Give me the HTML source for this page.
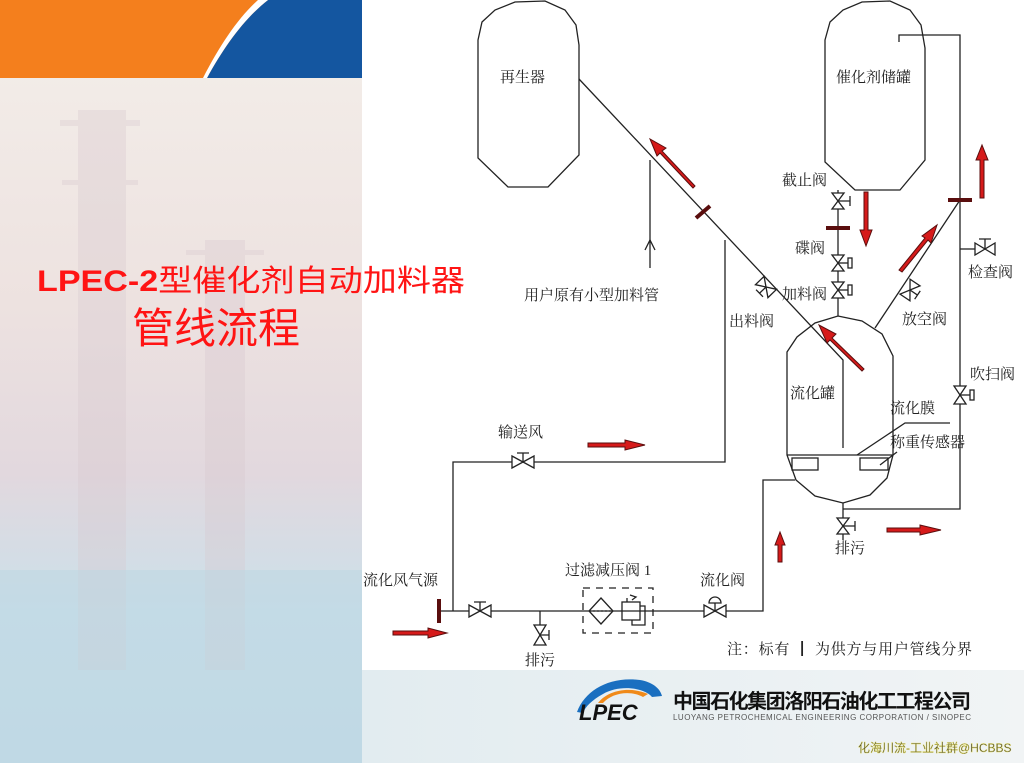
<!DOCTYPE html>
<html><head><meta charset="utf-8"><style>
html,body{margin:0;padding:0;width:1024px;height:763px;overflow:hidden;background:#fff}
svg{display:block}
text{font-family:"Liberation Serif","Noto Serif CJK SC",serif}
</style></head><body>
<svg width="1024" height="763" viewBox="0 0 1024 763" xmlns="http://www.w3.org/2000/svg">
<defs>
<linearGradient id="bgL" x1="0" y1="0" x2="0" y2="1">
<stop offset="0" stop-color="#f4efea"/><stop offset="0.4" stop-color="#ede2e0"/><stop offset="0.62" stop-color="#e2d8de"/><stop offset="0.8" stop-color="#cbe0ea"/><stop offset="1" stop-color="#c4dce8"/>
</linearGradient>
<linearGradient id="bgB" x1="0" y1="0" x2="1" y2="0">
<stop offset="0" stop-color="#e2ecf0"/><stop offset="1" stop-color="#f1f4f5"/>
</linearGradient>
</defs>
<!-- left background -->
<rect x="0" y="0" width="362" height="763" fill="url(#bgL)"/>
<g fill="#d8c8cf" opacity="0.35">
<rect x="78" y="110" width="48" height="560"/>
<rect x="60" y="120" width="80" height="6"/>
<rect x="62" y="180" width="76" height="5"/>
<rect x="205" y="240" width="40" height="430"/>
<rect x="186" y="250" width="78" height="5"/>
</g>
<g fill="#bcd5e1" opacity="0.5">
<rect x="0" y="570" width="362" height="193"/>
</g>
<!-- top band -->
<rect x="0" y="0" width="362" height="78" fill="#f47f1d"/>
<path d="M268,0 L362,0 L362,78 L207,78 C225,45 245,18 268,0 Z" fill="#1456a0"/>
<path d="M258,0 L268,0 C245,18 225,45 207,78 L203,78 C220,45 238,18 258,0 Z" fill="#fff"/>
<!-- diagram white area -->
<rect x="362" y="0" width="662" height="670" fill="#fff"/>
<!-- bottom strip -->
<rect x="362" y="670" width="662" height="93" fill="url(#bgB)"/>
<!-- title -->
<text x="37" y="291" font-size="30" fill="#ff1414" style="font-family:'Liberation Sans','Noto Sans CJK SC',sans-serif" textLength="428" lengthAdjust="spacingAndGlyphs"><tspan font-weight="bold">LPEC-2</tspan>型催化剂自动加料器</text>
<text x="132" y="343" font-size="42" fill="#ff1414" style="font-family:'Liberation Sans','Noto Sans CJK SC',sans-serif">管线流程</text>

<g stroke="#222" stroke-width="1.3" fill="none">
<path d="M478,40 L482,22 L495,10 L515,2 L545,1 L565,10 L576,25 L579,45 L579,155 L548,187 L508,187 L478,158 Z"/>
<path d="M825,40 L830,22 L843,10 L862,2 L890,1 L910,10 L921,25 L925,48 L925,160 L900,190 L855,190 L825,162 Z"/>
<path d="M579,79 L843,360 L843,448"/>
<path d="M650,160 L650,268"/>
<path d="M645,250 L650,240 L655,250"/>
<path d="M725,240 L725,462 L453,462 L453,611"/>
<path d="M440,611 L763,611 L763,480 L795,480"/>
<path d="M540,611 L540,645"/>
<path d="M787,352 L797,337 L815,323 L838,316 L862,321 L882,334 L893,356 L893,455 L887,478 L870,495 L843,503 L815,496 L796,480 L787,455 Z"/>
<path d="M787,455 L893,455"/>
<rect x="792" y="458" width="26" height="12"/>
<rect x="860" y="458" width="28" height="12"/>
<path d="M950,423 L905,423 L857,455"/>
<path d="M880,465 L897,452"/>
<path d="M838,190 L838,316"/>
<path d="M875,328 L960,200"/>
<path d="M899,42 L899,35 L960,35 L960,509 L843,509"/>
<path d="M843,503 L843,540"/>
<path d="M960,249 L975,249"/>
<rect x="583" y="588" width="70" height="45" stroke-dasharray="7,6"/>
<path d="M601,598 L613,611 L601,624 L589,611 Z"/>
<path d="M589,611 L613,611" stroke-dasharray="2,2"/>
<rect x="622" y="602" width="18" height="18"/>
<path d="M640,606 L645,606 L645,625 L632,625 L632,620"/>
<path d="M627,602 L627,598 M630,595 L636,597 L632,600"/>
</g>
<g stroke="#222" stroke-width="1.3" fill="#fff">
<path d="M512,456 L512,468 L534,456 L534,468 Z"/><path d="M523,462 L523,453 M517,453 L529,453" fill="none"/>
<path d="M469,605 L469,617 L491,605 L491,617 Z"/><path d="M480,611 L480,602 M474,602 L486,602" fill="none"/>
<path d="M704,605 L704,617 L726,605 L726,617 Z"/><path d="M715,611 L715,603" fill="none"/><path d="M709,603 A6,6 0 0 1 721,603 Z"/>
<path d="M975,243 L975,255 L995,243 L995,255 Z"/><path d="M985,249 L985,239 M979,239 L991,239" fill="none"/>
<path d="M534,625 L546,625 L534,645 L546,645 Z"/><path d="M540,635 L549,635 M549,630 L549,640" fill="none"/>
<path d="M832,193 L844,193 L832,209 L844,209 Z"/><path d="M838,201 L850,201 M850,196 L850,206" fill="none"/>
<path d="M832,255 L844,255 L832,271 L844,271 Z"/><path d="M838,263 L848,263" fill="none"/><rect x="848" y="258" width="4" height="10"/>
<path d="M832,282 L844,282 L832,298 L844,298 Z"/><path d="M838,290 L848,290" fill="none"/><rect x="848" y="285" width="4" height="10"/>
<path d="M954,386 L966,386 L954,404 L966,404 Z"/><path d="M960,395 L970,395" fill="none"/><rect x="970" y="390" width="4" height="10"/>
<path d="M837,518 L849,518 L837,534 L849,534 Z"/><path d="M843,526 L855,526 M855,521 L855,531" fill="none"/>
<g transform="translate(766,287) rotate(46)"><path d="M-9,-6 L-9,6 L9,-6 L9,6 Z"/><path d="M0,0 L0,9 M-5,9 L5,9" fill="none"/></g>
<g transform="translate(910,290) rotate(-56)"><path d="M-9,-6 L-9,6 L9,-6 L9,6 Z"/><path d="M0,0 L0,9 M-5,9 L5,9" fill="none"/></g>
</g>
<g stroke="#5a0e0e" stroke-width="4">
<path d="M439,599 L439,623"/>
<path d="M826,228 L850,228"/>
<path d="M948,200 L972,200"/>
<path d="M696,218 L710,206"/>
</g>
<g stroke="#5a0e0e" stroke-width="1" fill="#d61a1a">
<path d="M695,186 L662,151 L666,148 L650,139 L657,156 L660,153 L693,188 Z"/>
<path d="M864,369 L832,338 L836,334 L819,325 L827,343 L830,340 L862,371 Z"/>
<path d="M902,272 L928,240 L931,243 L937,225 L922,236 L925,238 L899,270 Z"/>
<path d="M864,192 L868,192 L868,230 L872,230 L866,246 L860,230 L864,230 Z"/>
<path d="M980,198 L984,198 L984,160 L988,160 L982,145 L976,160 L980,160 Z"/>
<path d="M778,562 L782,562 L782,545 L785,545 L780,532 L775,545 L778,545 Z"/>
<path d="M588,443 L625,443 L625,440 L645,445 L625,450 L625,447 L588,447 Z"/>
<path d="M393,631 L428,631 L428,628 L447,633 L428,638 L428,635 L393,635 Z"/>
<path d="M887,528 L920,528 L920,525 L941,530 L920,535 L920,532 L887,532 Z"/>
</g>
<g font-size="15" fill="#222">
<text x="500" y="82">再生器</text>
<text x="836" y="82">催化剂储罐</text>
<text x="782" y="185">截止阀</text>
<text x="795" y="253">碟阀</text>
<text x="782" y="299">加料阀</text>
<text x="524" y="300">用户原有小型加料管</text>
<text x="729" y="326">出料阀</text>
<text x="902" y="324">放空阀</text>
<text x="968" y="277">检查阀</text>
<text x="970" y="379">吹扫阀</text>
<text x="790" y="398">流化罐</text>
<text x="890" y="413">流化膜</text>
<text x="890" y="447">称重传感器</text>
<text x="498" y="437">输送风</text>
<text x="835" y="553">排污</text>
<text x="565" y="575">过滤减压阀 1</text>
<text x="700" y="585">流化阀</text>
<text x="363" y="585">流化风气源</text>
<text x="525" y="665">排污</text>
<text x="727" y="654" textLength="245">注：标有 <tspan font-weight="bold">┃</tspan> 为供方与用户管线分界</text>
</g>
<path d="M577,712 C585,690 610,676 640,680 C652,682 660,688 662,696 L652,697 C645,688 620,684 603,694 C592,700 585,707 583,713 Z" fill="#1a6fc0"/>
<path d="M598,703 C608,690 630,686 648,694 L643,697 C630,690 612,693 603,703 Z" fill="#f08a1a"/>
<text x="579" y="720" font-size="22" font-weight="bold" font-style="italic" fill="#111" style="font-family:'Liberation Sans',sans-serif">LPEC</text>
<text x="673" y="708" font-size="20" font-weight="bold" fill="#111" style="font-family:'Liberation Sans','Noto Sans CJK SC',sans-serif" textLength="298">中国石化集团洛阳石油化工工程公司</text>
<text x="673" y="720" font-size="8" fill="#555" style="font-family:'Liberation Sans',sans-serif" textLength="298">LUOYANG PETROCHEMICAL ENGINEERING CORPORATION / SINOPEC</text>
<text x="858" y="752" font-size="12" fill="#333" stroke="#e8e060" stroke-width="0.4" style="font-family:'Liberation Sans','Noto Sans CJK SC',sans-serif">化海川流-工业社群@HCBBS</text>
</svg>
</body></html>
